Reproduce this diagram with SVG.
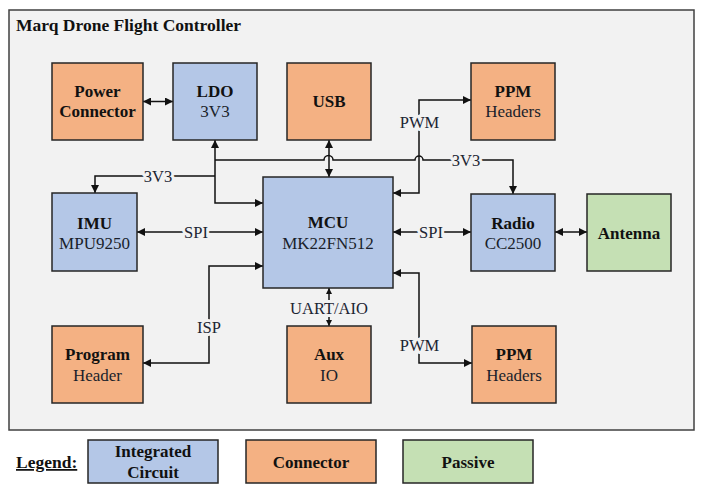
<svg xmlns="http://www.w3.org/2000/svg" width="706" height="494" viewBox="0 0 706 494" font-family="'Liberation Serif', 'DejaVu Serif', serif">
<defs>
<marker id="ah" viewBox="0 0 10 10" refX="10" refY="5" markerWidth="9" markerHeight="8" markerUnits="userSpaceOnUse" orient="auto-start-reverse"><path d="M0,0 L10,5 L0,10 Z" fill="#111"/></marker>
<marker id="ahs" viewBox="0 0 10 10" refX="10" refY="5" markerWidth="6" markerHeight="7" markerUnits="userSpaceOnUse" orient="auto-start-reverse"><path d="M0,0 L10,5 L0,10 Z" fill="#111"/></marker>
<style>
.frame{fill:#f2f2f2;stroke:#404040;stroke-width:1.5}
.ic{fill:#b4c7e7;stroke:#262626;stroke-width:1.5}
.cn{fill:#f4b183;stroke:#262626;stroke-width:1.5}
.ps{fill:#c5e0b4;stroke:#262626;stroke-width:1.5}
text{fill:#111}
.t{font-weight:bold;font-size:17px;text-anchor:middle}
.s{font-size:17px;text-anchor:middle;fill:#1a1f2b}
.title{font-weight:bold;font-size:17.5px}
.lbl{font-size:16.5px;text-anchor:middle;fill:#1c2533;stroke:#f2f2f2;stroke-width:6;paint-order:stroke;stroke-linejoin:round}
.w{fill:none;stroke:#111;stroke-width:1.5;marker-end:url(#ah)}
.b{marker-start:url(#ah)}
.sm{fill:none;stroke:#111;stroke-width:1.5;marker-start:url(#ahs);marker-end:url(#ahs)}
</style>
</defs>
<rect class="frame" x="9" y="10" width="685" height="420"/>
<text class="title" x="16" y="31">Marq Drone Flight Controller</text>

<g id="connectors">
<path class="w b" d="M143,101.5 H173"/>
<path class="w b" d="M215,140 V203 H263"/>
<path class="w" d="M215,176 H95 V193"/>
<path class="w" d="M215,160 H324 A4,4 0 0 1 333,160 H415 A4,4 0 0 1 423,160 H513 V194"/>
<path class="w b" d="M329,140 V177"/>
<path class="w b" d="M393,193 H419 V100 H471"/>
<path class="w b" d="M393,232 H471"/>
<path class="w b" d="M555,232 H587"/>
<path class="w b" d="M137,232 H263"/>
<path class="w b" d="M263,266 H209 V363 H143"/>
<path class="sm" d="M329,288 V326"/>
<path class="w b" d="M393,273 H419 V363 H472"/>
<text class="lbl" x="158" y="181.5">3V3</text>
<text class="lbl" x="466" y="165.5">3V3</text>
<text class="lbl" x="196" y="237.5">SPI</text>
<text class="lbl" x="431" y="237.5">SPI</text>
<text class="lbl" x="419.5" y="127.5">PWM</text>
<text class="lbl" x="419.5" y="350.5">PWM</text>
<text class="lbl" x="209" y="332.5">ISP</text>
<text class="lbl" x="329" y="313.5">UART/AIO</text>
</g>

<g id="power"><rect class="cn" x="52" y="63" width="91" height="77"/><text class="t" x="97.5" y="97">Power</text><text class="t" x="97.5" y="117">Connector</text></g>
<g id="ldo"><rect class="ic" x="173" y="63" width="84" height="77"/><text class="t" x="215" y="97">LDO</text><text class="s" x="215" y="117">3V3</text></g>
<g id="usb"><rect class="cn" x="287" y="63" width="84" height="77"/><text class="t" x="329" y="107">USB</text></g>
<g id="ppm-top"><rect class="cn" x="471" y="63" width="84" height="77"/><text class="t" x="513" y="97">PPM</text><text class="s" x="513" y="117">Headers</text></g>
<g id="imu"><rect class="ic" x="52" y="193" width="85" height="78"/><text class="t" x="94.5" y="229">IMU</text><text class="s" x="94.5" y="249">MPU9250</text></g>
<g id="mcu"><rect class="ic" x="263" y="177" width="130" height="111"/><text class="t" x="328" y="228">MCU</text><text class="s" x="328" y="249">MK22FN512</text></g>
<g id="radio"><rect class="ic" x="471" y="194" width="84" height="77"/><text class="t" x="513" y="229">Radio</text><text class="s" x="513" y="249">CC2500</text></g>
<g id="antenna"><rect class="ps" x="587" y="194" width="84" height="77"/><text class="t" x="629" y="239">Antenna</text></g>
<g id="program"><rect class="cn" x="52" y="326" width="91" height="77"/><text class="t" x="97.5" y="360">Program</text><text class="s" x="97.5" y="381">Header</text></g>
<g id="aux"><rect class="cn" x="287" y="326" width="84" height="77"/><text class="t" x="329" y="360">Aux</text><text class="s" x="329" y="381">IO</text></g>
<g id="ppm-bottom"><rect class="cn" x="472" y="326" width="84" height="77"/><text class="t" x="514" y="360">PPM</text><text class="s" x="514" y="381">Headers</text></g>

<g id="legend">
<text class="title" x="16" y="468" font-size="17" text-decoration="underline">Legend:</text>
<rect class="ic" x="88" y="440" width="130" height="43"/><text class="t" x="153" y="457">Integrated</text><text class="t" x="153" y="478">Circuit</text>
<rect class="cn" x="246" y="440" width="130" height="43"/><text class="t" x="311" y="468">Connector</text>
<rect class="ps" x="403" y="440" width="130" height="43"/><text class="t" x="468" y="468">Passive</text>
</g>
</svg>
